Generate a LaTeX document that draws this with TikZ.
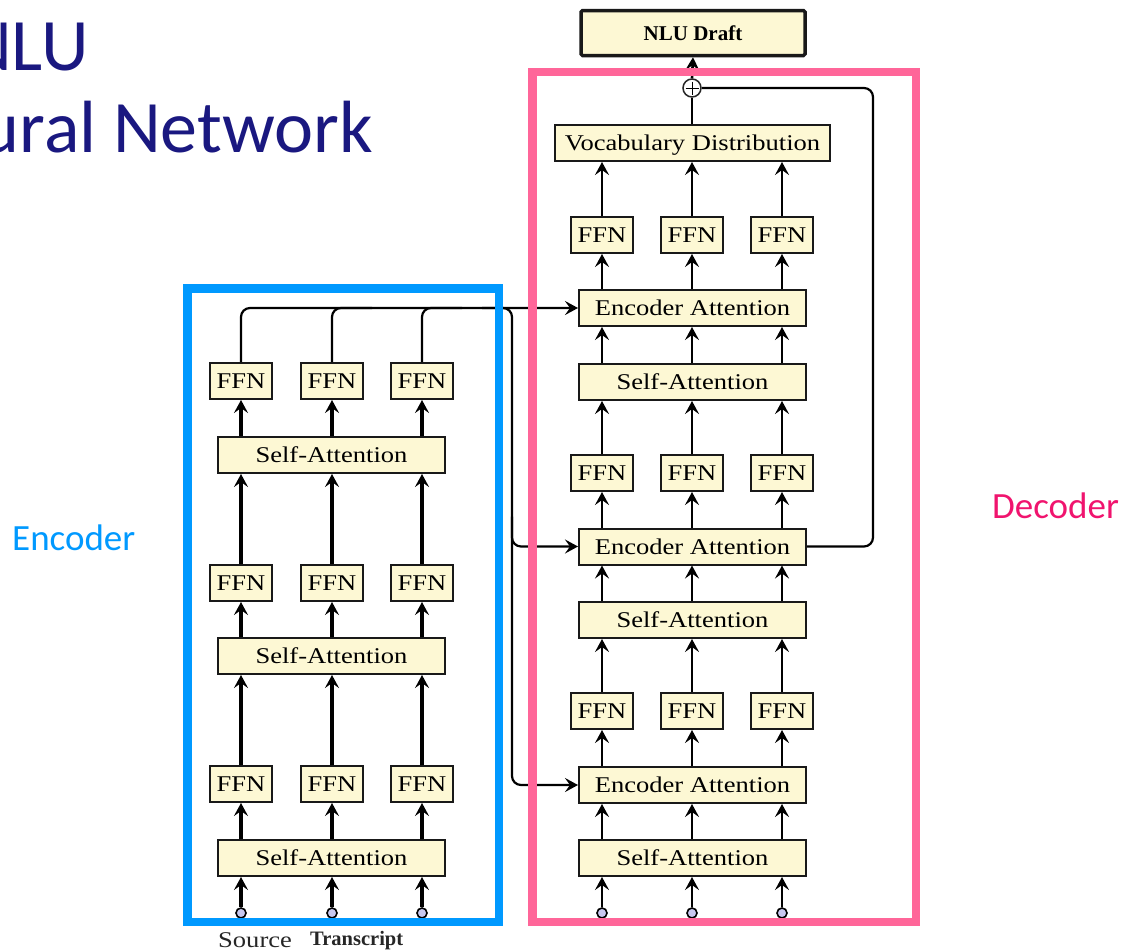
\documentclass[tikz,border=0pt]{standalone}
\usepackage{fontspec}
\setmainfont{Liberation Serif}
\newfontfamily\carlito{Carlito}
\usetikzlibrary{arrows.meta,calc}
\definecolor{navy}{RGB}{26,24,128}
\definecolor{encblue}{RGB}{0,153,255}
\definecolor{decpink}{RGB}{255,102,153}
\definecolor{declabel}{RGB}{240,20,110}
\definecolor{cream}{RGB}{253,248,212}
\definecolor{dotc}{RGB}{200,200,240}
\newcommand\sx[1]{\scalebox{1.18}[1]{#1}}
\begin{document}
\begin{tikzpicture}[x=1pt,y=-1pt,
  blk/.style={draw=black!90, line width=2pt, fill=cream, inner sep=0pt, minimum height=36pt,
    text height=15pt, text depth=0pt, font=\fontsize{22.5}{27}\selectfont},
  ffn/.style={blk, minimum width=62pt},
  wide/.style={blk, minimum width=227pt},
  inport/.style={circle, draw=black, line width=1.6pt, fill=dotc, minimum size=10pt, inner sep=0pt},
  earr/.style={line width=3.4pt, -{Stealth[length=13pt,width=14pt,inset=5pt]}},
  darr/.style={line width=2.6pt, -{Stealth[length=13pt,width=14pt,inset=5pt]}},
  conn/.style={line width=2.2pt, rounded corners=9pt},
  carr/.style={conn, -{Stealth[length=13pt,width=14pt,inset=5pt]}},
]
\useasboundingbox (0,0) rectangle (1122,951);
\clip (0,0) rectangle (1122,951);

% titles
\node[anchor=base east, inner sep=0pt, text=navy, font=\carlito\fontsize{74}{88}\selectfont] (t1) at (89,70) {NLU};
\node[anchor=base east, inner sep=0pt, text=navy, font=\carlito\fontsize{74}{88}\selectfont] (t2) at (373,152) {ural Network};
\node[anchor=base west, inner sep=0pt, text=encblue, font=\carlito\fontsize{37}{44}\selectfont] (encl) at (12,550) {Encoder};
\node[anchor=base west, inner sep=0pt, text=declabel, font=\carlito\fontsize{37}{44}\selectfont] (decl) at (992,518) {Decoder};

% encoder
\node[wide] (esa1) at (331.5,858) {\sx{Self-Attention}};
\node[wide] (esa2) at (331.5,656) {\sx{Self-Attention}};
\node[wide] (esa3) at (331.5,455) {\sx{Self-Attention}};
\foreach \i/\x in {1/241,2/332,3/422}{
  \node[ffn] (ef1\i) at (\x,784) {\sx{FFN}};
  \node[ffn] (ef2\i) at (\x,583) {\sx{FFN}};
  \node[ffn] (ef3\i) at (\x,381) {\sx{FFN}};
  \node[inport] (ec\i) at (\x,913) {};
}

% decoder
\node[wide] (dsa1) at (692.5,858) {\sx{Self-Attention}};
\node[wide] (dea1) at (692.5,785) {\sx{Encoder Attention}};
\node[wide] (dsa2) at (692.5,620) {\sx{Self-Attention}};
\node[wide] (dea2) at (692.5,546.5) {\sx{Encoder Attention}};
\node[wide] (dsa3) at (692.5,382) {\sx{Self-Attention}};
\node[wide] (dea3) at (692.5,308) {\sx{Encoder Attention}};
\foreach \i/\x in {1/602,2/692,3/782}{
  \node[ffn] (df1\i) at (\x,711) {\sx{FFN}};
  \node[ffn] (df2\i) at (\x,473) {\sx{FFN}};
  \node[ffn] (df3\i) at (\x,235) {\sx{FFN}};
  \node[inport] (dc\i) at (\x,913) {};
}
\node[blk, minimum width=275pt] (vd) at (692.5,143) {\sx{Vocabulary Distribution}};
\node[circle, draw=black!85, line width=1.5pt, fill=white, minimum size=18pt, inner sep=0pt] (plus) at (692,88) {};
\draw[line width=1pt] ($(plus.center)+(-6.5,0)$) -- ($(plus.center)+(6.5,0)$);
\draw[line width=1pt] ($(plus.center)+(0,-6.5)$) -- ($(plus.center)+(0,6.5)$);
\node[blk, line width=3.5pt, rounded corners=1.5pt, minimum width=224pt, minimum height=45pt,
  font=\bfseries\fontsize{21}{25}\selectfont, text height=14pt] (nlu) at (693,33) {NLU Draft};

% encoder arrows
\foreach \i in {1,2,3}{
  \draw[earr] (ec\i.north) -- (ec\i |- esa1.south);
  \draw[earr] (esa1.north -| ef1\i) -- (ef1\i.south);
  \draw[earr] (ef1\i.north) -- (ef1\i |- esa2.south);
  \draw[earr] (esa2.north -| ef2\i) -- (ef2\i.south);
  \draw[earr] (ef2\i.north) -- (ef2\i |- esa3.south);
  \draw[earr] (esa3.north -| ef3\i) -- (ef3\i.south);
}

% decoder arrows
\foreach \i in {1,2,3}{
  \draw[darr] (dc\i.north) -- (dc\i |- dsa1.south);
  \draw[darr] (dsa1.north -| df1\i) -- (df1\i |- dea1.south);
  \draw[darr] (dea1.north -| df1\i) -- (df1\i.south);
  \draw[darr] (df1\i.north) -- (df1\i |- dsa2.south);
  \draw[darr] (dsa2.north -| df2\i) -- (df2\i |- dea2.south);
  \draw[darr] (dea2.north -| df2\i) -- (df2\i.south);
  \draw[darr] (df2\i.north) -- (df2\i |- dsa3.south);
  \draw[darr] (dsa3.north -| df3\i) -- (df3\i |- dea3.south);
  \draw[darr] (dea3.north -| df3\i) -- (df3\i.south);
  \draw[darr] (df3\i.north) -- (df3\i |- vd.south);
}
\draw[line width=2.6pt] (vd.north -| plus) -- (plus.south);
\draw[darr] (plus.north) -- (nlu.south);

% encoder to decoder connections
\coordinate (bus) at (512,308);
\draw[carr] (ef31.north) |- (dea3.west);
\draw[conn] (ef32.north) |- ($(ef32.north |- bus)+(40,0)$);
\draw[conn] (ef33.north) |- ($(ef33.north |- bus)+(40,0)$);
\draw[carr] ($(bus)+(-30,0)$) -- (bus) -- (bus |- dea1.west) -- (dea1.west);
\draw[carr] ($(bus |- dea2.west)+(0,-30)$) -- (bus |- dea2.west) -- (dea2.west);

% residual loop
\coordinate (rloop) at (873,88);
\draw[conn] (dea2.east) -| (rloop) -- (plus.east);

% labels
\node[anchor=base west, inner sep=0pt, text=black!85, font=\fontsize{22.5}{27}\selectfont] (src) at (218,947) {\sx{Source}};
\node[anchor=base west, inner sep=0pt, text=black!85, font=\bfseries\fontsize{20.5}{24}\selectfont] (trs) at (310,945) {Transcript};

% frames
\draw[encblue, line width=8.5pt] (187.5,288.5) rectangle (499,922);
\draw[decpink, line width=8.5pt] (532.5,72) rectangle (916,922);
\end{tikzpicture}
\end{document}
